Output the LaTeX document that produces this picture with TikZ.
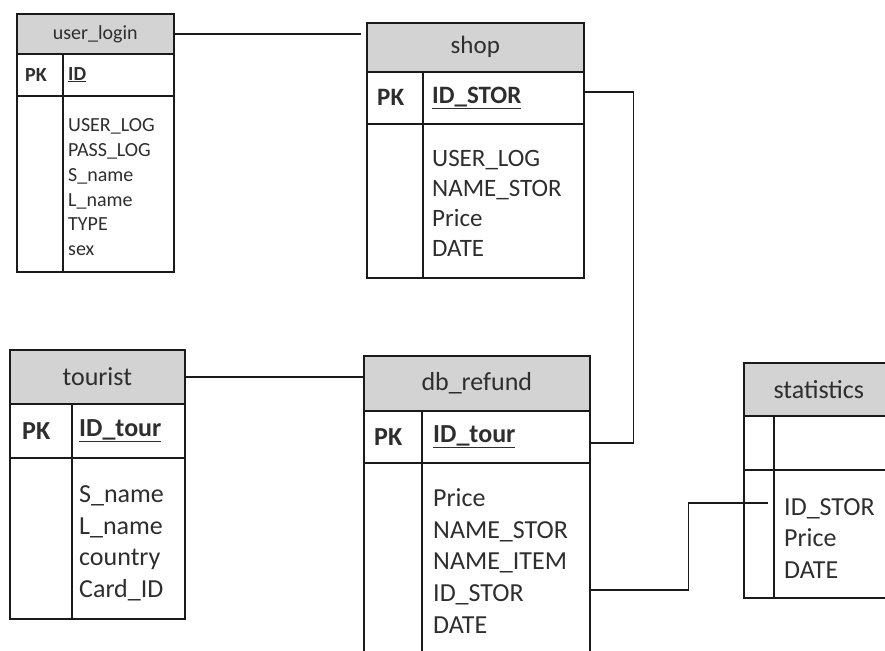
\documentclass[tikz,border=0pt]{standalone}
\usepackage{fontspec}
\setmainfont{Carlito}
\usetikzlibrary{positioning}
\definecolor{headfill}{HTML}{D3D3D3}
\definecolor{edgecol}{HTML}{1A1A1A}
\definecolor{inkcol}{HTML}{2E2E2E}
\tikzset{
  tablehead/.style={
    rectangle, draw=edgecol, fill=headfill, line width=1.6pt,
    anchor=north west, inner sep=0pt, text=inkcol
  },
  tablecell/.style={
    rectangle, draw=edgecol, line width=1.6pt, anchor=north west, inner sep=0pt
  },
  celltext/.style={inner sep=0pt, text=inkcol, align=left},
  smalltext/.style={font=\fontsize{20}{24.8}\selectfont},
  midtext/.style={font=\fontsize{25}{30}\selectfont},
  bigtext/.style={font=\fontsize{26}{31.6}\selectfont},
  link/.style={draw=edgecol, line width=1.6pt}
}
\begin{document}
\begin{tikzpicture}[x=1pt,y=-1pt]
  \useasboundingbox (0,0) rectangle (885,650);
  \clip (0,0) rectangle (885,650);

  % user_login
  \node[tablehead, smalltext, minimum width=157pt, minimum height=40pt] (userlogin) at (16,13) {user\_login};
  \node[tablecell, minimum width=46pt, minimum height=42pt] (userlogin-pk) at (16,53) {};
  \node[tablecell, minimum width=111pt, minimum height=42pt] (userlogin-key) at (62,53) {};
  \node[tablecell, minimum width=46pt, minimum height=176pt] (userlogin-side) at (16,95) {};
  \node[tablecell, minimum width=111pt, minimum height=176pt] (userlogin-body) at (62,95) {};
  \node[celltext, smalltext, anchor=west] (userlogin-pktext) at ([xshift=9pt]userlogin-pk.west) {\bfseries PK};
  \node[celltext, smalltext, anchor=west] (userlogin-keytext) at ([xshift=6pt]userlogin-key.west) {\bfseries\underline{ID}};
  % base anchor sits on the last line
  \node[celltext, smalltext, anchor=base west] (userlogin-fields) at (68,255.7)
    {USER\_LOG\\PASS\_LOG\\S\_name\\L\_name\\TYPE\\sex};

  % shop
  \node[tablehead, midtext, minimum width=217pt, minimum height=49pt] (shop) at (366,22) {shop};
  \node[tablecell, minimum width=56pt, minimum height=52pt] (shop-pk) at (366,71) {};
  \node[tablecell, minimum width=161pt, minimum height=52pt] (shop-key) at (422,71) {};
  \node[tablecell, minimum width=56pt, minimum height=154pt] (shop-side) at (366,123) {};
  \node[tablecell, minimum width=161pt, minimum height=154pt] (shop-body) at (422,123) {};
  \node[celltext, midtext, anchor=west] (shop-pktext) at ([xshift=11pt]shop-pk.west) {\bfseries PK};
  \node[celltext, midtext, anchor=west] (shop-keytext) at ([xshift=10pt]shop-key.west) {\bfseries\underline{ID\_STOR}};
  \node[celltext, midtext, anchor=base west] (shop-fields) at (432,256.5)
    {USER\_LOG\\NAME\_STOR\\Price\\DATE};

  % tourist
  \node[tablehead, bigtext, minimum width=175pt, minimum height=54pt] (tourist) at (9,349) {tourist};
  \node[tablecell, minimum width=62pt, minimum height=54pt] (tourist-pk) at (9,403) {};
  \node[tablecell, minimum width=113pt, minimum height=54pt] (tourist-key) at (71,403) {};
  \node[tablecell, minimum width=62pt, minimum height=161pt] (tourist-side) at (9,457) {};
  \node[tablecell, minimum width=113pt, minimum height=161pt] (tourist-body) at (71,457) {};
  \node[celltext, bigtext, anchor=west] (tourist-pktext) at ([xshift=13pt]tourist-pk.west) {\bfseries PK};
  \node[celltext, bigtext, anchor=west] (tourist-keytext) at ([xshift=8pt]tourist-key.west) {\bfseries\underline{ID\_tour}};
  \node[celltext, bigtext, anchor=base west] (tourist-fields) at (79,597.5)
    {S\_name\\L\_name\\country\\Card\_ID};

  % db_refund (runs past the lower edge)
  \node[tablehead, bigtext, minimum width=226pt, minimum height=55pt] (refund) at (363,355) {db\_refund};
  \node[tablecell, minimum width=58pt, minimum height=52pt] (refund-pk) at (363,410) {};
  \node[tablecell, minimum width=168pt, minimum height=52pt] (refund-key) at (421,410) {};
  \node[tablecell, minimum width=58pt, minimum height=202pt] (refund-side) at (363,462) {};
  \node[tablecell, minimum width=168pt, minimum height=202pt] (refund-body) at (421,462) {};
  \node[celltext, bigtext, anchor=west] (refund-pktext) at ([xshift=11pt]refund-pk.west) {\bfseries PK};
  \node[celltext, bigtext, anchor=west] (refund-keytext) at ([xshift=12pt]refund-key.west) {\bfseries\underline{ID\_tour}};
  \node[celltext, bigtext, anchor=base west] (refund-fields) at (433,633.1)
    {Price\\NAME\_STOR\\NAME\_ITEM\\ID\_STOR\\DATE};

  % statistics (runs past the right edge)
  \node[tablehead, bigtext, minimum width=150pt, minimum height=53pt] (stats) at (743,362) {statistics};
  \node[tablecell, minimum width=30pt, minimum height=54pt] (stats-pk) at (743,415) {};
  \node[tablecell, minimum width=120pt, minimum height=54pt] (stats-key) at (773,415) {};
  \node[tablecell, minimum width=30pt, minimum height=128pt] (stats-side) at (743,469) {};
  \node[tablecell, minimum width=120pt, minimum height=128pt] (stats-body) at (773,469) {};
  \node[celltext, bigtext, anchor=base west] (stats-fields) at (784,578.2)
    {ID\_STOR\\Price\\DATE};

  % relations
  \draw[link] (userlogin.east) -- ([xshift=-5pt]userlogin.east -| shop.west);
  \draw[link] ([yshift=6pt]shop-key.east) -- ++(49,0) |- ([yshift=-6pt]refund-key.east);
  \draw[link] (tourist.east) -- (tourist.east -| refund.west);
  \draw[link] ([yshift=-26pt]refund-body.east) -- ++(98,0) |- ([xshift=-5pt,yshift=31pt]stats-body.west);
\end{tikzpicture}
\end{document}
